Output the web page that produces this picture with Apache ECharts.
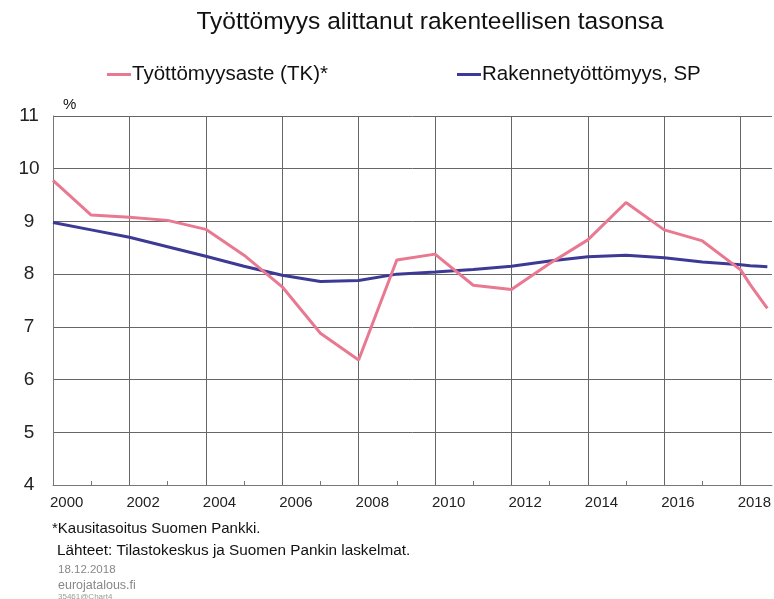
<!DOCTYPE html>
<html>
<head>
<meta charset="utf-8">
<script src="https://cdn.jsdelivr.net/npm/echarts@6/dist/echarts.min.js"></script>
<style>
html,body{margin:0;padding:0;background:#fff;}
#chart{width:774px;height:599px;}
</style>
</head>
<body>
<div id="chart"></div>
<script>
// Data
var years = [2000, 2001, 2002, 2003, 2004, 2005, 2006, 2007, 2008, 2009, 2010, 2011, 2012, 2013, 2014, 2015, 2016, 2017, 2018, 2018.25, 2018.5, 2018.7];
var unemploymentRate = [9.78, 9.12, 9.08, 9.02, 8.85, 8.36, 7.76, 6.88, 6.37, 8.27, 8.38, 7.79, 7.71, 8.2, 8.65, 9.36, 8.84, 8.63, 8.08, 7.8, 7.55, 7.35];
var structuralUnemployment = [8.98, 8.84, 8.70, 8.52, 8.34, 8.15, 7.98, 7.86, 7.88, 8.0, 8.04, 8.09, 8.15, 8.25, 8.33, 8.36, 8.31, 8.23, 8.18, 8.16, 8.15, 8.14];
var seriesNames = ["Työttömyysaste (TK)*", "Rakennetyöttömyys, SP"];
var yTicks = [4, 5, 6, 7, 8, 9, 10, 11];

function pairs(xs, ys) {
  return xs.map(function (x, i) { return [x, ys[i]]; });
}

var gridCol = '#666';
var xSplitColors = [];
for (var k = 0; k < 10; k++) { xSplitColors.push(gridCol); }
xSplitColors.push('rgba(0,0,0,0)');

var chart = echarts.init(document.getElementById('chart'), null, {renderer: 'canvas'});
var font = 'Liberation Sans, Arial, sans-serif';
chart.setOption({
  animation: false,
  backgroundColor: '#fff',
  title: [
    {text: 'Työttömyys alittanut rakenteellisen tasonsa', left: 425, textAlign: 'center', top: 5,
     textStyle: {fontFamily: font, fontSize: 24.5, fontWeight: 'normal', color: '#111'}},
    {text: '%', left: 58, top: 92, textStyle: {fontFamily: font, fontSize: 15, fontWeight: 'normal', color: '#111'}},
    {text: '*Kausitasoitus Suomen Pankki.', left: 47, top: 516, textStyle: {fontFamily: font, fontSize: 15, fontWeight: 'normal', color: '#111'}},
    {text: 'Lähteet: Tilastokeskus ja Suomen Pankin laskelmat.', left: 52, top: 538, textStyle: {fontFamily: font, fontSize: 15.3, fontWeight: 'normal', color: '#111'}},
    {text: '18.12.2018', left: 53, top: 559, textStyle: {fontFamily: font, fontSize: 11.5, fontWeight: 'normal', color: '#888'}},
    {text: 'eurojatalous.fi', left: 53, top: 574, textStyle: {fontFamily: font, fontSize: 12.5, fontWeight: 'normal', color: '#888'}},
    {text: '35461@Chart4', left: 53, top: 588, textStyle: {fontFamily: font, fontSize: 8, fontWeight: 'normal', color: '#999'}}
  ],
  legend: [
    {data: [seriesNames[0]], left: 102, top: 59, itemWidth: 24, itemHeight: 3, itemGap: 4,
     icon: 'rect', textStyle: {fontFamily: font, fontSize: 20.5, color: '#111', padding: [0, 0, 0, -4]}},
    {data: [seriesNames[1]], left: 452, top: 59, itemWidth: 24, itemHeight: 3, itemGap: 4,
     icon: 'rect', textStyle: {fontFamily: font, fontSize: 20.5, color: '#111', padding: [0, 0, 0, -4]}}
  ],
  grid: {left: 53, top: 116, right: 0, bottom: 114, containLabel: false},
  xAxis: {
    type: 'value', min: 2000, max: 2018.82, interval: 2,
    axisLine: {show: true, lineStyle: {color: '#777', width: 1}},
    axisTick: {show: false, inside: true},
    minorTick: {show: true, splitNumber: 2, length: 4, lineStyle: {color: '#777'}},
    splitLine: {show: true, lineStyle: {color: xSplitColors, width: 1}},
    axisLabel: {
      show: true, showMaxLabel: false, showMinLabel: true, align: 'left', margin: 10,
      fontFamily: font, fontSize: 15, color: '#222',
      padding: [0, 0, 0, -3],
      formatter: function (v) { return String(Math.round(v)); }
    }
  },
  yAxis: {
    type: 'value', min: yTicks[0], max: yTicks[yTicks.length - 1], interval: 1,
    axisLine: {show: true, lineStyle: {color: '#777', width: 1}},
    axisTick: {show: false},
    splitLine: {show: true, lineStyle: {color: gridCol, width: 1}},
    axisLabel: {margin: 24, align: 'center', fontFamily: font, fontSize: 19, color: '#222'}
  },
  series: [
    {name: seriesNames[0], type: 'line', data: pairs(years, unemploymentRate), showSymbol: false, symbol: 'none',
     color: '#e97891', lineStyle: {width: 3, color: '#e97891'}, z: 3},
    {name: seriesNames[1], type: 'line', data: pairs(years, structuralUnemployment), showSymbol: false, symbol: 'none',
     color: '#3d3a96', lineStyle: {width: 3, color: '#3d3a96'}, z: 2}
  ]
});
</script>
</body>
</html>
